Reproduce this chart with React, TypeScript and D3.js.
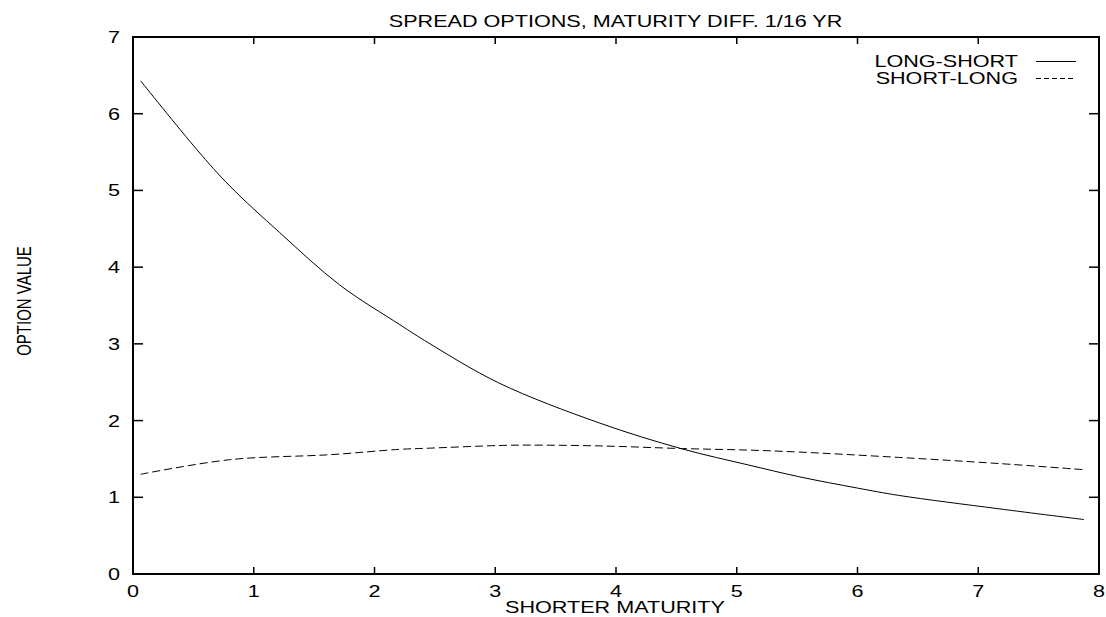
import React from "react";
import * as d3 from "d3";

const maturityLS = [0.0625, 0.53, 0.8, 1.215, 1.71, 2.21, 2.45, 3.03, 3.86, 4.55, 5.1, 5.51, 6.0, 6.34, 7.17, 7.875];
const longShort = [6.43, 5.53, 5.06, 4.45, 3.77, 3.25, 3.01, 2.49, 1.97, 1.63, 1.42, 1.27, 1.12, 1.025, 0.85, 0.71];
const maturitySL = [0.0625, 0.8, 1.63, 2.21, 2.45, 3.03, 3.28, 3.86, 4.55, 5.1, 5.51, 6.34, 7.17, 7.875];
const shortLong = [1.3, 1.49, 1.555, 1.625, 1.64, 1.675, 1.68, 1.67, 1.635, 1.615, 1.59, 1.52, 1.44, 1.36];
const xTicks = [0, 1, 2, 3, 4, 5, 6, 7, 8];
const yTicks = [0, 1, 2, 3, 4, 5, 6, 7];
const title = "SPREAD OPTIONS, MATURITY DIFF. 1/16 YR";
const xLabel = "SHORTER MATURITY";
const yLabel = "OPTION VALUE";
const seriesNames = ["LONG-SHORT", "SHORT-LONG"];

const W = 1106, H = 617;
const L = 133, R = 1099, T = 37, B = 574;
const SX = 1.35;
const FONT = "'Liberation Sans', Arial, Helvetica, sans-serif";

function T2({ x, y, anchor = "middle", children, size = 16 }: any) {
  return (
    <text
      transform={`translate(${x},${y}) scale(${SX},1)`}
      textAnchor={anchor}
      fontFamily={FONT}
      fontSize={size}
      fill="#000"
    >
      {children}
    </text>
  );
}

export default function App() {
  const x = d3.scaleLinear().domain([0, 8]).range([L, R]);
  const y = d3.scaleLinear().domain([0, 7]).range([B, T]);
  const mkLine = (xs: number[]) =>
    d3
      .line<number>()
      .x((_, i) => x(xs[i]))
      .y((d) => y(d))
      .curve(d3.curveCatmullRom.alpha(0.5));

  return (
    <svg
      width={W}
      height={H}
      style={{ position: "absolute", left: 0, top: 0, background: "#fff" }}
    >
      <rect x={0} y={0} width={W} height={H} fill="#fff" />
      {xTicks.map((t) => (
        <g key={"x" + t}>
          <line x1={x(t)} x2={x(t)} y1={B} y2={B - 7} stroke="#000" strokeWidth={1.5} />
          <line x1={x(t)} x2={x(t)} y1={T} y2={T + 7} stroke="#000" strokeWidth={1.5} />
          <T2 x={x(t)} y={597}>{t}</T2>
        </g>
      ))}
      {yTicks.map((t) => (
        <g key={"y" + t}>
          <line x1={L} x2={L + 10} y1={y(t)} y2={y(t)} stroke="#000" strokeWidth={1.5} />
          <line x1={R} x2={R - 10} y1={y(t)} y2={y(t)} stroke="#000" strokeWidth={1.5} />
          <T2 x={120} y={y(t) + 6} anchor="end">{t}</T2>
        </g>
      ))}
      <rect x={L} y={T} width={R - L} height={B - T} fill="none" stroke="#000" strokeWidth={2} />

      <path d={mkLine(maturityLS)(longShort) || ""} fill="none" stroke="#000" strokeWidth={1} />
      <path
        d={mkLine(maturitySL)(shortLong) || ""}
        fill="none"
        stroke="#000"
        strokeWidth={1}
        strokeDasharray="8,4"
      />

      <T2 x={1018} y={67} anchor="end">{seriesNames[0]}</T2>
      <line x1={1036} x2={1076} y1={61.5} y2={61.5} stroke="#000" strokeWidth={1} />
      <T2 x={1018} y={84} anchor="end">{seriesNames[1]}</T2>
      <line x1={1036} x2={1076} y1={78.5} y2={78.5} stroke="#000" strokeWidth={1} strokeDasharray="5,3" />

      <T2 x={615.5} y={27}>{title}</T2>
      <T2 x={615} y={613}>{xLabel}</T2>
      <text
        transform={`translate(31,301) scale(${SX},1) rotate(-90)`}
        textAnchor="middle"
        fontFamily={FONT}
        fontSize={15}
        fill="#000"
      >
        {yLabel}
      </text>
    </svg>
  );
}
